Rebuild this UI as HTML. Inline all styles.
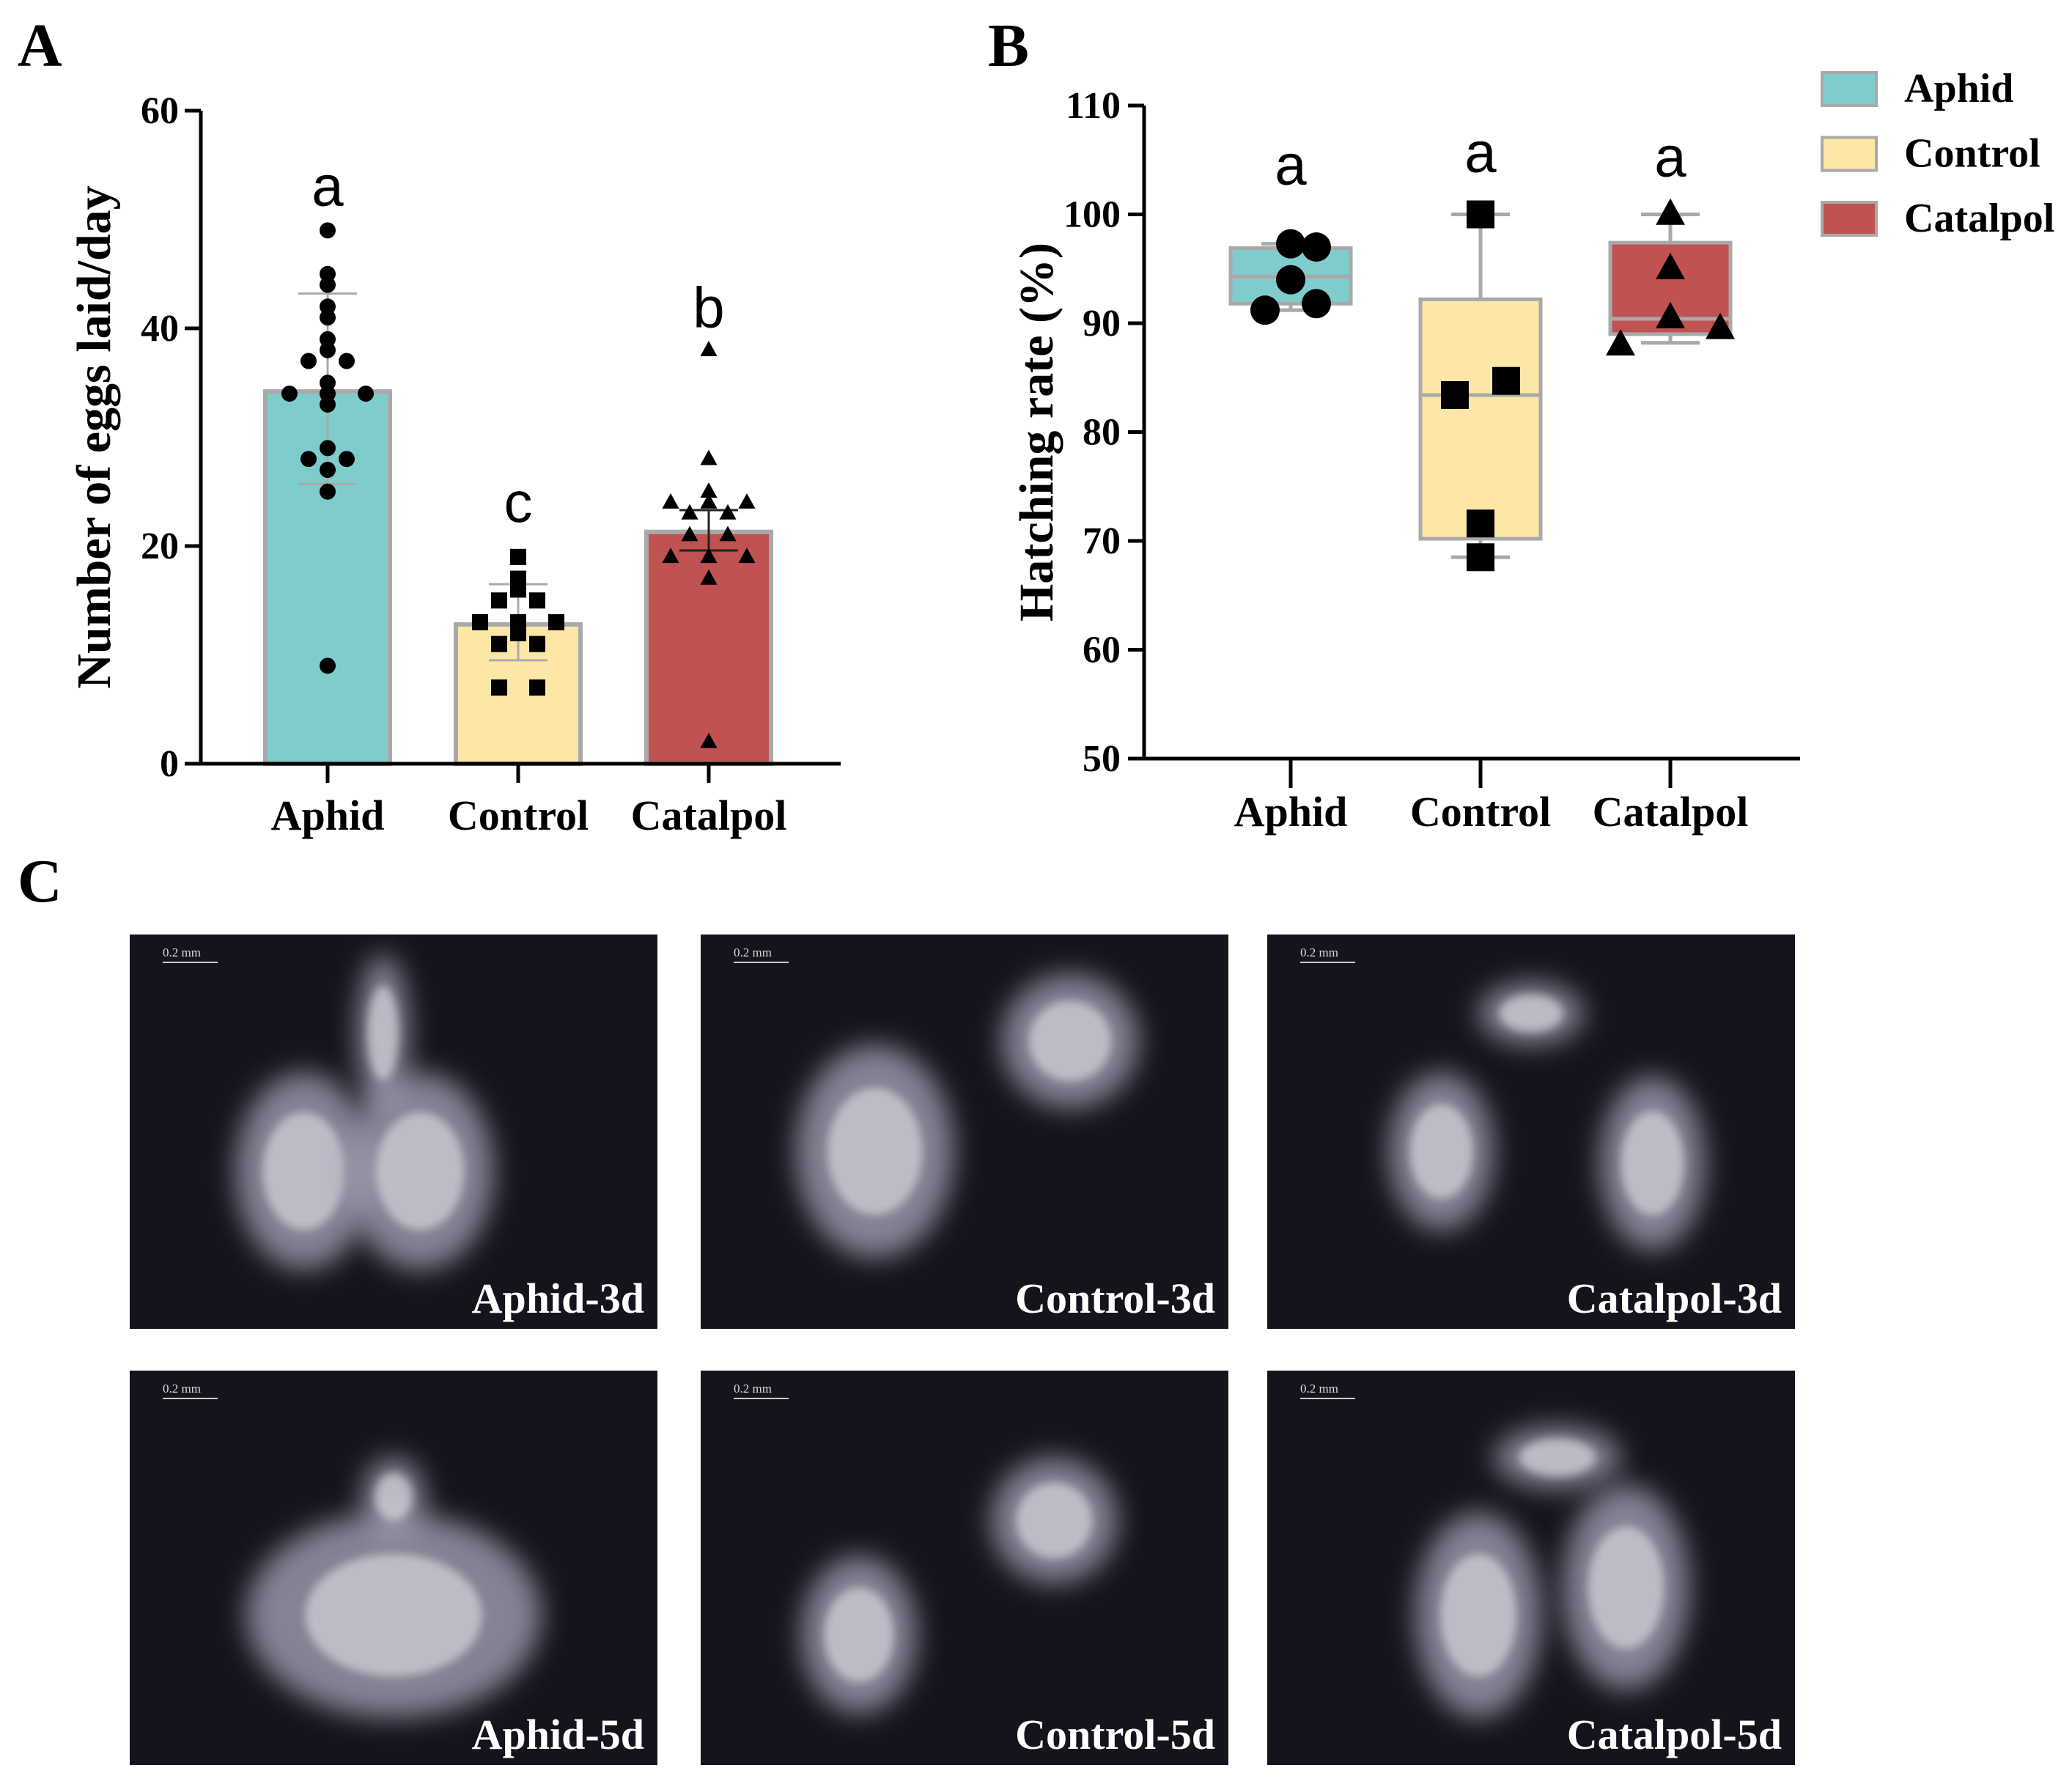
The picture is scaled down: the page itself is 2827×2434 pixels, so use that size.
<!DOCTYPE html>
<html><head><meta charset="utf-8"><style>
html,body{margin:0;padding:0;background:#fff}
svg{display:block}
text{font-family:"Liberation Serif",serif;font-weight:bold}
.sans{font-family:"Liberation Sans",sans-serif;font-weight:normal}
</style></head><body>
<svg id="fig" width="2827" height="2434" viewBox="0 0 2827 2434" xmlns="http://www.w3.org/2000/svg">
<defs>
<filter id="blur" x="-50%" y="-50%" width="200%" height="200%"><feGaussianBlur stdDeviation="18"/></filter>
<filter id="blur2" x="-50%" y="-50%" width="200%" height="200%"><feGaussianBlur stdDeviation="6"/></filter>
</defs>
<text x="24" y="90" font-size="84">A</text>
<text x="1348" y="90" font-size="84">B</text>
<text x="24" y="1230" font-size="84">C</text>
<g id="chartA"></g>
<g id="chartB"></g>
<g id="photos"></g>
</svg>
<script>
const NS='http://www.w3.org/2000/svg';
// ---------- Chart A data ----------
const catsA=['Aphid','Control','Catalpol'];
const meansA=[34.2,12.8,21.3];
const errHiA=[43.2,16.5,23.3];
const errLoA=[25.7,9.5,19.6];
const lettersA=['a','c','b'];
const aphidPts=[49,45,44,42,41,39,38,37,37,35,34,34,34,33,29,28,28,27,25,9];
const controlPts=[19,17,16,15,15,13,13,13,12,11,11,7,7];
const catalpolPts=[38,28,25,24,24,24,23,23,21,21,19,19,19,17,2];
const ticksA=[0,20,40,60];
// ---------- Chart B data ----------
const catsB=['Aphid','Control','Catalpol'];
const q1B=[91.8,70.2,89.0];
const medB=[94.3,83.4,90.4];
const q3B=[96.9,92.2,97.4];
const wLoB=[91.2,68.5,88.2];
const wHiB=[97.3,100,100];
const aphidB=[97.3,97.0,94.0,91.2,91.8];
const controlB=[100,84.7,83.4,71.6,68.5];
const catalpolB=[100,95.0,90.5,89.5,88.0];
const ticksB=[50,60,70,80,90,100,110];
const lettersB=['a','a','a'];

const fills=['#7ecdcc','#fde7a6','#c05252'];
function el(tag,attrs,parent){const e=document.createElementNS(NS,tag);for(const k in attrs)e.setAttribute(k,attrs[k]);parent.appendChild(e);return e;}
function marker(g,shape,cx,cy,s){
  let m;
  if(shape==='circle'){m=el('circle',{cx:cx,cy:cy,r:s,fill:'#000'},g);}
  else if(shape==='square'){m=el('rect',{x:cx-s,y:cy-s,width:2*s,height:2*s,fill:'#000'},g);}
  else {m=el('polygon',{points:`${cx},${cy-s*1.15} ${cx-s*1.05},${cy+s*0.75} ${cx+s*1.05},${cy+s*0.75}`,fill:'#000'},g);}
  return m;
}
function jitter(vals,spread){
  const seen={};return vals.map(v=>{seen[v]=(seen[v]||0)+1;const n=vals.filter(x=>x===v).length;const i=seen[v]-1;
    if(n===1)return 0;return (i-(n-1)/2)*spread;});
}
// ---------- draw A ----------
(function(){
const g=document.getElementById('chartA');
const x0=274,xEnd=1147,yTop=151,yBot=1042,ymax=60;
const y=v=>yBot-(v/ymax)*(yBot-yTop);
const xc=i=>447+i*260;
const bw=170;
const t=el('text',{x:0,y:0,'font-size':66,'text-anchor':'middle',transform:`translate(150,${(yTop+yBot)/2}) rotate(-90)`},g);
t.textContent='Number of eggs laid/day';


const ptsets=[aphidPts,controlPts,catalpolPts];const shapes=['circle','square','triangle'];
const letterOff=[34,85,31];
catsA.forEach((c,i)=>{
  const b=el('rect',{x:xc(i)-bw/2,y:y(meansA[i]),width:bw,height:yBot-y(meansA[i]),fill:fills[i],stroke:'#a9a9a9','stroke-width':6},g);
  
  
  const ecol=i===2?'#222':'#aaa';
  el('line',{x1:xc(i),x2:xc(i),y1:y(errHiA[i]),y2:y(errLoA[i]),stroke:ecol,'stroke-width':3},g);
  el('line',{x1:xc(i)-40,x2:xc(i)+40,y1:y(errHiA[i]),y2:y(errHiA[i]),stroke:ecol,'stroke-width':3},g);
  el('line',{x1:xc(i)-40,x2:xc(i)+40,y1:y(errLoA[i]),y2:y(errLoA[i]),stroke:ecol,'stroke-width':3},g);
  const js=jitter(ptsets[i],52);
  ptsets[i].forEach((v,j)=>{const m=marker(g,shapes[i],xc(i)+js[j],y(v),11);
    
    });
  const ref=i===1?errHiA[i]:Math.max(...ptsets[i]);
  const lt=el('text',{x:xc(i),y:y(ref)-letterOff[i],'font-size':78,'text-anchor':'middle',class:'sans'},g);
  lt.textContent=lettersA[i];
  
  
  el('line',{x1:xc(i),x2:xc(i),y1:yBot,y2:yBot+26,stroke:'#000','stroke-width':5},g);
  const xl=el('text',{x:xc(i),y:1132,'font-size':58,'text-anchor':'middle'},g);
  xl.textContent=c;
  
  
});
el('line',{x1:x0,x2:x0,y1:yTop,y2:yBot+2.5,stroke:'#000','stroke-width':5},g);
el('line',{x1:x0-2.5,x2:xEnd,y1:yBot,y2:yBot,stroke:'#000','stroke-width':5},g);
ticksA.forEach(v=>{el('line',{x1:x0-22,x2:x0,y1:y(v),y2:y(v),stroke:'#000','stroke-width':5},g);
  const tl=el('text',{x:x0-30,y:y(v)+17,'font-size':52,'text-anchor':'end'},g);tl.textContent=v;
  
  });
})();
// ---------- draw B ----------
(function(){
const g=document.getElementById('chartB');
const x0=1561,xEnd=2456,yTop=144,yBot=1035,ymin=50,ymax=110;
const y=v=>yBot-((v-ymin)/(ymax-ymin))*(yBot-yTop);
const xc=i=>1761+i*259;
const bw=164;
const t=el('text',{x:0,y:0,'font-size':66,'text-anchor':'middle',transform:`translate(1436,${(yTop+yBot)/2}) rotate(-90)`},g);
t.textContent='Hatching rate (%)';


const sets=[aphidB,controlB,catalpolB];const shapes=['circle','square','triangle'];
const offs=[[0,1,0,-1,1],[0,1,-1,0,0],[0,0,0,1,-1]];
const letterOff=[81,58,52];
catsB.forEach((c,i)=>{
  el('line',{x1:xc(i),x2:xc(i),y1:y(wHiB[i]),y2:y(wLoB[i]),stroke:'#a9a9a9','stroke-width':5},g);
  el('line',{x1:xc(i)-40,x2:xc(i)+40,y1:y(wHiB[i]),y2:y(wHiB[i]),stroke:'#a9a9a9','stroke-width':5},g);
  el('line',{x1:xc(i)-40,x2:xc(i)+40,y1:y(wLoB[i]),y2:y(wLoB[i]),stroke:'#a9a9a9','stroke-width':5},g);
  const b=el('rect',{x:xc(i)-bw/2,y:y(q3B[i]),width:bw,height:y(q1B[i])-y(q3B[i]),fill:fills[i],stroke:'#a9a9a9','stroke-width':5},g);
  
  
  el('line',{x1:xc(i)-bw/2,x2:xc(i)+bw/2,y1:y(medB[i]),y2:y(medB[i]),stroke:'#a9a9a9','stroke-width':5},g);
  sets[i].forEach((v,j)=>{const m=marker(g,shapes[i],xc(i)+offs[i][j]*(i===2?68:35),y(v),i===0?20:19);
    
    });
  const lt=el('text',{x:xc(i),y:y(wHiB[i])-letterOff[i],'font-size':78,'text-anchor':'middle',class:'sans'},g);
  lt.textContent=lettersB[i];
  
  
  el('line',{x1:xc(i),x2:xc(i),y1:yBot,y2:yBot+40,stroke:'#000','stroke-width':5},g);
  const xl=el('text',{x:xc(i),y:1127,'font-size':58,'text-anchor':'middle'},g);
  xl.textContent=c;
  
  
  const ly=99+i*88.5;
  const sw=el('rect',{x:2486,y:ly,width:74,height:45,fill:fills[i],stroke:'#a9a9a9','stroke-width':4},g);
  
  
  const lg=el('text',{x:2598,y:ly+40,'font-size':56},g);lg.textContent=c;
  
  
});
el('line',{x1:x0,x2:x0,y1:yTop,y2:yBot+2.5,stroke:'#000','stroke-width':5},g);
el('line',{x1:x0-2.5,x2:xEnd,y1:yBot,y2:yBot,stroke:'#000','stroke-width':5},g);
ticksB.forEach(v=>{el('line',{x1:x0-22,x2:x0,y1:y(v),y2:y(v),stroke:'#000','stroke-width':5},g);
  const tl=el('text',{x:x0-32,y:y(v)+17,'font-size':52,'text-anchor':'end'},g);tl.textContent=v;
  
  });
})();
// ---------- photos ----------
(function(){
const g=document.getElementById('photos');
const cols=[177,956,1729],w=720,rows=[1275,1870],h=538;
const labels=[['Aphid-3d','Control-3d','Catalpol-3d'],['Aphid-5d','Control-5d','Catalpol-5d']];
const blobs=[
 [[[0.33,0.6,0.13,0.25],[0.55,0.6,0.14,0.25],[0.48,0.25,0.05,0.2]],
  [[0.33,0.55,0.15,0.27],[0.7,0.27,0.13,0.17]],
  [[0.33,0.55,0.1,0.2],[0.73,0.58,0.1,0.22],[0.5,0.2,0.1,0.08]]],
 [[[0.5,0.62,0.28,0.26],[0.5,0.32,0.06,0.1]],
  [[0.3,0.67,0.11,0.2],[0.67,0.38,0.12,0.16]],
  [[0.4,0.62,0.12,0.26],[0.68,0.55,0.12,0.26],[0.55,0.22,0.12,0.08]]]];
rows.forEach((ry,r)=>cols.forEach((cx,c)=>{
  const p=el('g',{},g);
  
  
  el('rect',{x:cx,y:ry,width:w,height:h,fill:'#16131c'},p);
  blobs[r][c].forEach(b=>{
    el('ellipse',{cx:cx+b[0]*w,cy:ry+b[1]*h,rx:b[2]*w,ry:b[3]*h,fill:'#a9a7bb',opacity:0.75,filter:'url(#blur)'},p);
    el('ellipse',{cx:cx+b[0]*w,cy:ry+b[1]*h,rx:b[2]*w*0.6,ry:b[3]*h*0.6,fill:'#e4e2e8',opacity:0.6,filter:'url(#blur2)'},p);
  });
  el('line',{x1:cx+45,x2:cx+120,y1:ry+38,y2:ry+38,stroke:'#ccc','stroke-width':2},p);
  const sb=el('text',{x:cx+45,y:ry+30,'font-size':17,fill:'#ddd',style:'font-weight:normal'},p);sb.textContent='0.2 mm';
  
  
  const lt=el('text',{x:cx+w-18,y:ry+h-22,'font-size':58,fill:'#fff','text-anchor':'end'},p);
  lt.textContent=labels[r][c];
  
  
}));
})();
</script>
</body></html>
